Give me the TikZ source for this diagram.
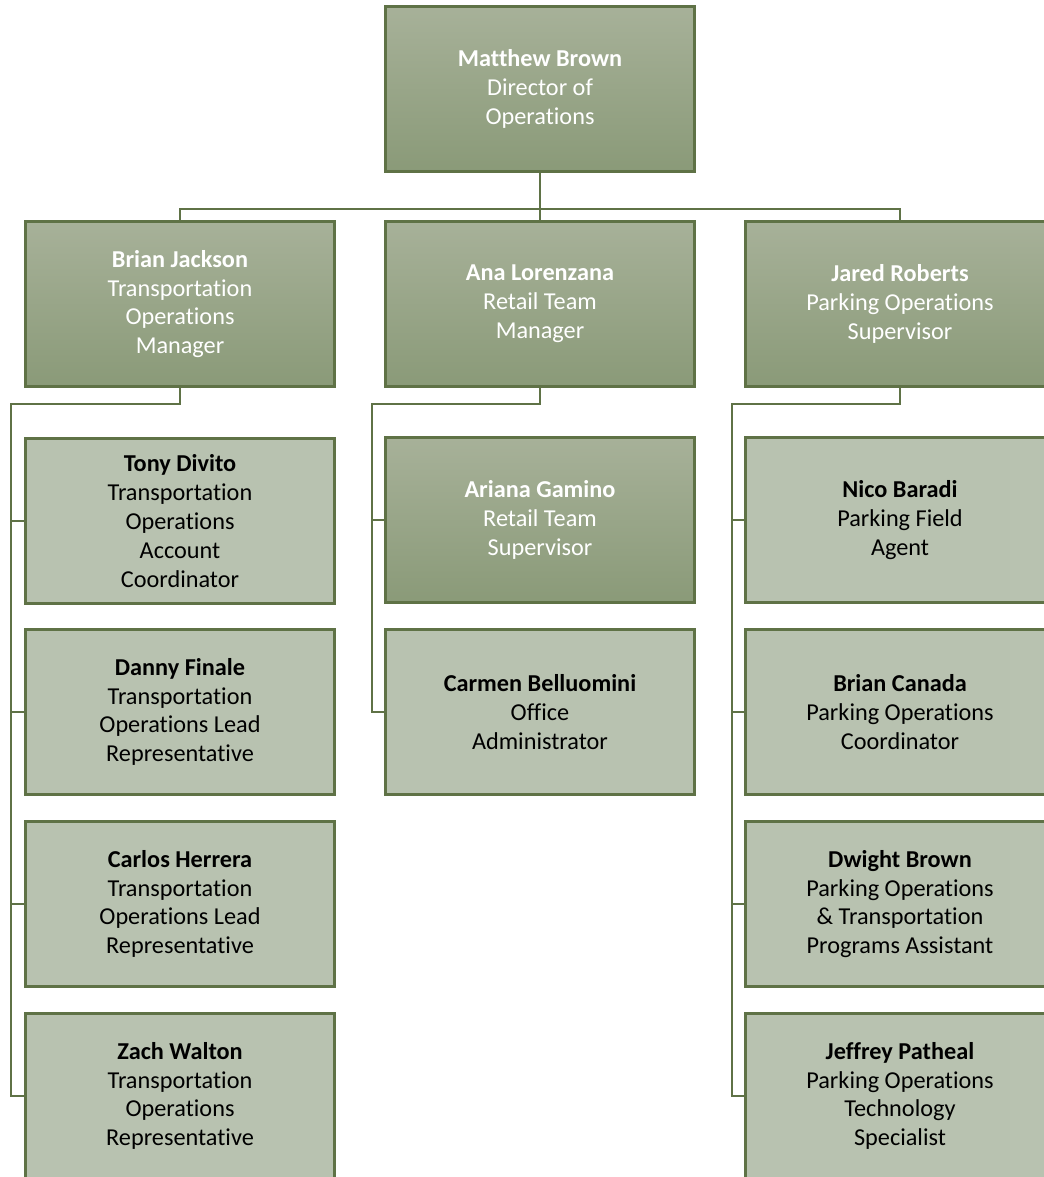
\documentclass[tikz,border=0pt]{standalone}
\usepackage{fontspec}
\setmainfont[Ligatures=NoCommon]{Carlito}
\definecolor{G1}{RGB}{167,177,153}
\definecolor{G2}{RGB}{138,154,120}
\definecolor{G3}{RGB}{184,194,176}
\definecolor{G4}{RGB}{95,114,70}
\begin{document}
\begin{tikzpicture}[x=0.75pt, y=-0.75pt,
    box/.style={rectangle, draw=G4, line width=2.6pt, minimum width=232pt, minimum height=124pt,
                align=center, font=\fontsize{18.2}{21.6}\selectfont, inner sep=0pt},
    dark/.style={box, top color=G1, bottom color=G2, text=white},
    light/.style={box, fill=G3, text=black},
    link/.style={draw=G4, line width=1.7pt}]
      \path[use as bounding box, clip] (0,0) rectangle (1044,1177);
      \draw (540, 89) node[dark] (mb) {\textbf{Matthew Brown}\\Director of\\Operations};
      \draw (180, 304) node[dark] (bj) {\textbf{Brian Jackson}\\Transportation\\Operations\\Manager};
      \draw (540, 304) node[dark] (al) {\textbf{Ana Lorenzana}\\Retail Team\\Manager};
      \draw (900, 304) node[dark] (jr) {\textbf{Jared Roberts}\\Parking Operations\\Supervisor};
      \draw (180, 521) node[light] (td) {\textbf{Tony Divito}\\Transportation\\Operations\\Account\\Coordinator};
      \draw (180, 712) node[light] (df) {\textbf{Danny Finale}\\Transportation\\Operations Lead\\Representative};
      \draw (180, 904) node[light] (ch) {\textbf{Carlos Herrera}\\Transportation\\Operations Lead\\Representative};
      \draw (180, 1096) node[light] (zw) {\textbf{Zach Walton}\\Transportation\\Operations\\Representative};
      \draw (540, 520) node[dark] (ag) {\textbf{Ariana Gamino}\\Retail Team\\Supervisor};
      \draw (540, 712) node[light] (cb) {\textbf{Carmen Belluomini}\\Office\\Administrator};
      \draw (900, 520) node[light] (nb) {\textbf{Nico Baradi}\\Parking Field\\Agent};
      \draw (900, 712) node[light] (bc) {\textbf{Brian Canada}\\Parking Operations\\Coordinator};
      \draw (900, 904) node[light] (db) {\textbf{Dwight Brown}\\Parking Operations\\\& Transportation\\Programs Assistant};
      \draw (900, 1096) node[light] (jp) {\textbf{Jeffrey Patheal}\\Parking Operations\\Technology\\Specialist};
      % top level
      \coordinate (bus) at (540, 209);
      \draw[link] (mb.south) -- (bus) -| (bj.north);
      \draw[link] (bus) -| (jr.north);
      \draw[link] (bus) -- (al.north);
      % left column
      \coordinate (r1) at (11, 404);
      \draw[link] (bj.south) |- (r1) |- (zw.west);
      \draw[link] (r1) |- (td.west); \draw[link] (r1) |- (df.west); \draw[link] (r1) |- (ch.west);
      % middle column
      \coordinate (r2) at (372, 404);
      \draw[link] (al.south) |- (r2) |- (cb.west);
      \draw[link] (r2) |- (ag.west);
      % right column
      \coordinate (r3) at (732, 404);
      \draw[link] (jr.south) |- (r3) |- (jp.west);
      \draw[link] (r3) |- (nb.west); \draw[link] (r3) |- (bc.west); \draw[link] (r3) |- (db.west);
    \end{tikzpicture}
\end{document}
